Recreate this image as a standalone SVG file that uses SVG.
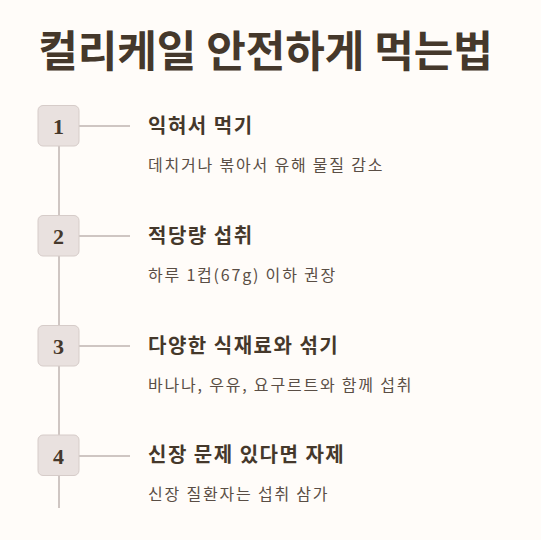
<svg xmlns="http://www.w3.org/2000/svg" width="541" height="540" viewBox="0 0 541 540">
<style>
.title{font-family:"Noto Sans CJK KR",sans-serif;font-weight:700;font-size:43px;fill:#45382b}
.box{fill:#e9e1df;stroke:#d6ccc9;stroke-width:1}
.num{font-family:"Liberation Serif",serif;font-weight:700;font-size:22px;fill:#45382b}
.h{font-family:"Noto Sans CJK KR",sans-serif;font-weight:700;font-size:20px;letter-spacing:1.5px;fill:#45382b}
.d{font-family:"Noto Sans CJK KR",sans-serif;font-size:16px;letter-spacing:1.8px;fill:#5a4e45}
.ln{stroke:#cfc6c3;stroke-width:2;fill:none}
</style>
<rect width="541" height="540" fill="#fffcf9"/>
<text class="title" x="265.5" y="67" text-anchor="middle">컬리케일 안전하게 먹는법</text>
<g id="connectors">
<line class="ln" x1="59" y1="126" x2="59" y2="508"/>
<line class="ln" x1="78" y1="126" x2="130" y2="126"/>
<line class="ln" x1="78" y1="236" x2="130" y2="236"/>
<line class="ln" x1="78" y1="346" x2="130" y2="346"/>
<line class="ln" x1="78" y1="456" x2="130" y2="456"/>
</g>
<g id="step1">
<rect class="box" x="38" y="105.5" width="41" height="40.5" rx="5"/>
<text class="num" x="58.5" y="134" text-anchor="middle">1</text>
<text class="h" x="148" y="133">익혀서 먹기</text>
<text class="d" x="148" y="171">데치거나 볶아서 유해 물질 감소</text>
</g>
<g id="step2">
<rect class="box" x="38" y="215.5" width="41" height="40.5" rx="5"/>
<text class="num" x="58.5" y="244" text-anchor="middle">2</text>
<text class="h" x="148" y="243">적당량 섭취</text>
<text class="d" x="148" y="281">하루 1컵(67g) 이하 권장</text>
</g>
<g id="step3">
<rect class="box" x="38" y="325.5" width="41" height="40.5" rx="5"/>
<text class="num" x="58.5" y="354" text-anchor="middle">3</text>
<text class="h" x="148" y="353">다양한 식재료와 섞기</text>
<text class="d" x="148" y="391">바나나, 우유, 요구르트와 함께 섭취</text>
</g>
<g id="step4">
<rect class="box" x="38" y="435" width="41" height="40.5" rx="5"/>
<text class="num" x="58.5" y="463.5" text-anchor="middle">4</text>
<text class="h" x="148" y="462">신장 문제 있다면 자제</text>
<text class="d" x="148" y="500">신장 질환자는 섭취 삼가</text>
</g>
</svg>
